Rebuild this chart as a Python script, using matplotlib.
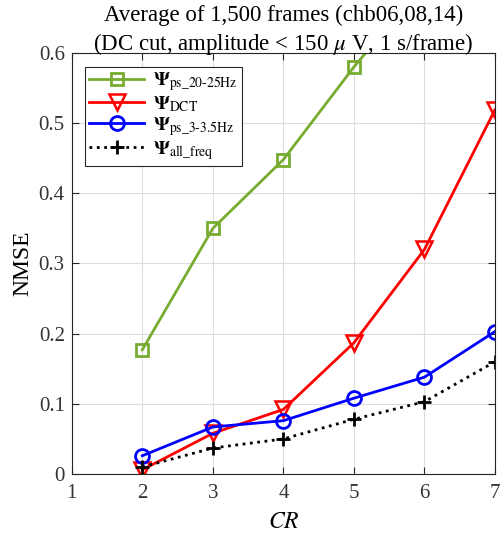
import numpy as np
import matplotlib
matplotlib.use("Agg")
import matplotlib.pyplot as plt

plt.rcParams['font.family'] = ['Liberation Serif', 'DejaVu Serif']
plt.rcParams['mathtext.fontset'] = 'stix'

cr = [2, 3, 4, 5, 6, 7]
psi_20_25 = [0.177, 0.350, 0.448, 0.580, 0.700, 0.800]
psi_dct = [0.006, 0.058, 0.092, 0.187, 0.320, 0.519]
psi_3_35 = [0.026, 0.067, 0.076, 0.108, 0.138, 0.203]
psi_all = [0.010, 0.037, 0.050, 0.078, 0.103, 0.160]

fig = plt.figure(figsize=(5.02, 5.33), dpi=100)
ax = fig.add_axes([0.143, 0.1107, 0.843, 0.79])

lw = 2
ms = 10
ax.plot(cr, psi_20_25, '-s', color='#77AC30', lw=lw, ms=ms - 1, mfc='none', mew=2,
        label=r'$\mathbf{\Psi}_{\mathrm{ps\_20\text{-}25Hz}}$')
ax.plot(cr, psi_dct, '-v', color='red', lw=lw, ms=ms + 1, mfc='none', mew=1.8,
        label=r'$\mathbf{\Psi}_{\mathrm{DCT}}$')
ax.plot(cr, psi_3_35, '-o', color='blue', lw=lw, ms=ms, mfc='none', mew=2,
        label=r'$\mathbf{\Psi}_{\mathrm{ps\_3\text{-}3.5Hz}}$')
ax.plot(cr, psi_all, ':+', color='black', lw=lw, ms=ms, mew=2,
        label=r'$\mathbf{\Psi}_{\mathrm{all\_freq}}$')

ax.set_xlim(1, 7)
ax.set_ylim(0, 0.6)
ax.set_xticks(range(1, 8))
ax.set_yticks(np.arange(0, 0.61, 0.1))
ax.set_yticklabels(['0', '0.1', '0.2', '0.3', '0.4', '0.5', '0.6'])
ax.grid(True, color='#dddddd', lw=0.8)
ax.set_axisbelow(True)
ax.tick_params(direction='in', top=True, right=True, labelsize=15, length=5,
               color='#262626', labelcolor='#333333')
ax.tick_params(axis='x', pad=7)
ax.tick_params(axis='y', pad=5)
for s in ax.spines.values():
    s.set_color('#262626')

ax.set_xlabel(r'$CR$', fontsize=17, labelpad=7)
ax.set_ylabel('NMSE', fontsize=17, labelpad=4)
ax.set_title('Average of 1,500 frames (chb06,08,14)\n'
             r'(DC cut, amplitude < 150 $\mu$ V, 1 s/frame)', fontsize=16.5, linespacing=1.25, pad=2)

leg = ax.legend(loc='upper left', fontsize=14, fancybox=False, framealpha=1,
                edgecolor='#262626', handlelength=2.8, borderaxespad=0.7,
                labelspacing=0.05, handletextpad=0.5, borderpad=0.2)
leg.get_frame().set_linewidth(0.8)

fig.savefig('out.png', dpi=100)
